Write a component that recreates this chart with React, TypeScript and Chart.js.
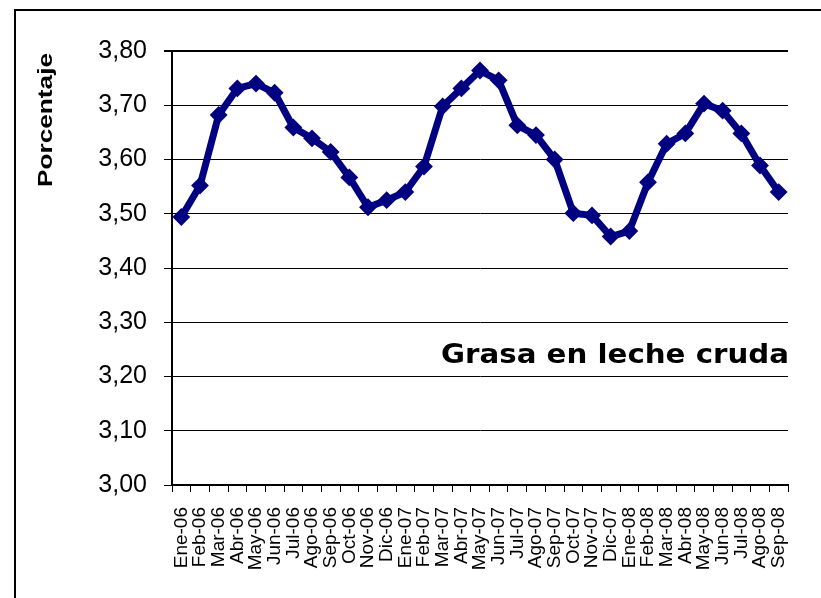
import React, { useEffect, useRef } from "react";
import { Chart, registerables } from "chart.js";

Chart.register(...registerables);

const months: string[] = [
  "Ene-06", "Feb-06", "Mar-06", "Abr-06", "May-06", "Jun-06", "Jul-06", "Ago-06", "Sep-06", "Oct-06", "Nov-06", "Dic-06",
  "Ene-07", "Feb-07", "Mar-07", "Abr-07", "May-07", "Jun-07", "Jul-07", "Ago-07", "Sep-07", "Oct-07", "Nov-07", "Dic-07",
  "Ene-08", "Feb-08", "Mar-08", "Abr-08", "May-08", "Jun-08", "Jul-08", "Ago-08", "Sep-08",
];

const grasa: number[] = [
  3.494, 3.552, 3.682, 3.731, 3.740, 3.723, 3.659, 3.639, 3.614, 3.567, 3.512, 3.525,
  3.540, 3.587, 3.698, 3.731, 3.764, 3.746, 3.663, 3.645, 3.600, 3.501, 3.497, 3.458,
  3.468, 3.558, 3.629, 3.648, 3.703, 3.690, 3.648, 3.589, 3.540,
];

const yMin = 3.0;
const yMax = 3.8;
const yStep = 0.1;

const chartTitle = "Grasa en leche cruda";
const yTitle = "Porcentaje";

const FONT = "'Liberation Sans', Arial, sans-serif";
const HEAVY = "'DejaVu Sans', 'Liberation Sans', Arial, sans-serif";

const textPlugin = {
  id: "textPlugin",
  afterDraw(chart: any) {
    const ctx = chart.ctx as CanvasRenderingContext2D;
    const area = chart.chartArea;
    const ys = chart.scales.y;
    // Title inside the plot
    ctx.save();
    ctx.font = `bold 26px ${HEAVY}`;
    const w = ctx.measureText(chartTitle).width;
    const sx = 348 / w;
    ctx.translate(area.right + 1, ys.getPixelForValue(3.225));
    ctx.scale(sx, 1);
    ctx.textAlign = "right";
    ctx.textBaseline = "alphabetic";
    ctx.fillStyle = "#000";
    ctx.fillText(chartTitle, 0, 0);
    ctx.restore();
    // Y axis title
    ctx.save();
    ctx.font = `bold 20px ${FONT}`;
    const w2 = ctx.measureText(yTitle).width;
    const s2 = 134 / w2;
    ctx.translate(46, 120);
    ctx.rotate(-Math.PI / 2);
    ctx.scale(s2, 1);
    ctx.textAlign = "center";
    ctx.textBaseline = "middle";
    ctx.fillStyle = "#000";
    ctx.fillText(yTitle, 0, 0);
    ctx.restore();
  },
};

export default function App() {
  const canvasRef = useRef<HTMLCanvasElement | null>(null);

  useEffect(() => {
    if (!canvasRef.current) return;
    const chart = new Chart(canvasRef.current, {
      type: "line",
      data: {
        labels: months,
        datasets: [
          {
            data: grasa,
            borderColor: "#000080",
            backgroundColor: "#000080",
            borderWidth: 7,
            tension: 0,
            borderJoinStyle: "round",
            pointStyle: "rectRot",
            pointRadius: 7.5,
            pointBorderWidth: 2,
            pointBackgroundColor: "#000080",
            pointBorderColor: "#000080",
          },
        ],
      },
      options: {
        responsive: false,
        animation: false,
        layout: { padding: { top: 51, right: 33, left: 0, bottom: 0 } },
        plugins: {
          legend: { display: false },
          tooltip: { enabled: false },
          title: { display: false },
        },
        scales: {
          x: {
            type: "category",
            offset: true,
            grid: {
              offset: true,
              drawOnChartArea: false,
              drawTicks: true,
              tickLength: 7,
              color: "#000",
              lineWidth: 1,
            },
            border: { display: true, color: "#000", width: 2 },
            ticks: {
              autoSkip: false,
              minRotation: 90,
              maxRotation: 90,
              padding: 15,
              color: "#000",
              font: { family: FONT, size: 19 },
            },
            afterFit: (s: any) => {
              s.height = 113;
            },
          },
          y: {
            min: yMin,
            max: yMax,
            ticks: {
              stepSize: yStep,
              padding: 17,
              color: "#000",
              font: { family: FONT, size: 25 },
              callback: (v: any) => Number(v).toFixed(2).replace(".", ","),
            },
            grid: {
              color: "#000",
              lineWidth: (c: any) => (c.tick && c.tick.value >= 3.79 ? 2 : 1),
              tickLength: 8,
              drawTicks: true,
            },
            border: { display: true, color: "#000", width: 2 },
            afterFit: (s: any) => {
              s.width = 172;
            },
          },
        },
      },
      plugins: [textPlugin],
    } as any);
    return () => chart.destroy();
  }, []);

  return (
    <div
      style={{
        position: "fixed",
        left: 0,
        top: 0,
        width: 821,
        height: 598,
        overflow: "hidden",
        background: "#fff",
      }}
    >
      <div
        style={{
          position: "absolute",
          left: 14,
          top: 9,
          right: -10,
          bottom: -10,
          borderTop: "2px solid #000",
          borderLeft: "2px solid #000",
        }}
      />
      <canvas
        ref={canvasRef}
        width={821}
        height={598}
        style={{ position: "absolute", left: 0, top: 0, width: 821, height: 598 }}
      />
    </div>
  );
}
